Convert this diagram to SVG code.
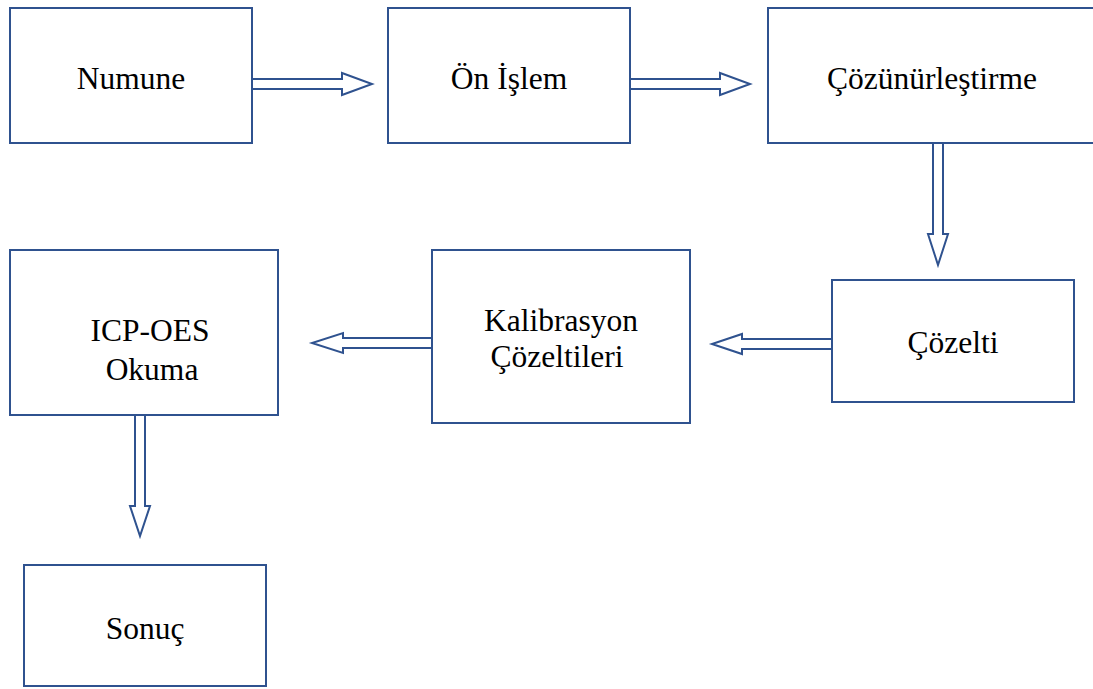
<svg xmlns="http://www.w3.org/2000/svg" width="1093" height="689" viewBox="0 0 1093 689">
<style>
.box{fill:#fff;stroke:#2F528F;stroke-width:2}
.arr{fill:#fff;stroke:#2F528F;stroke-width:2;stroke-linejoin:miter}
text{font-family:"Liberation Serif","Times New Roman",serif;font-size:31.5px;fill:#000;text-anchor:middle}
</style>
<rect width="1093" height="689" fill="#fff"/>
<g id="connectors">
<polygon class="arr" points="252,79 342,79 342,73 372,84 342,95 342,89 252,89"/>
<polygon class="arr" points="630,79 720,79 720,73 750,84 720,95 720,89 630,89"/>
<polygon class="arr" points="933,143 943,143 943,234 948,234 938,265 928,234 933,234"/>
<polygon class="arr" points="832,339 742,339 742,334 712,344 742,354 742,349 832,349"/>
<polygon class="arr" points="432,338 343,338 343,333 312,343 343,353 343,348 432,348"/>
<polygon class="arr" points="135,415 145,415 145,506 150,506 140,536 130,506 135,506"/>
</g>
<g id="n1"><rect class="box" x="10" y="8" width="242" height="135"/><text x="131" y="89">Numune</text></g>
<g id="n2"><rect class="box" x="388" y="8" width="242" height="135"/><text x="509" y="89">Ön İşlem</text></g>
<g id="n3"><rect class="box" x="768" y="8" width="335" height="135"/><text x="932" y="89">Çözünürleştirme</text></g>
<g id="n4"><rect class="box" x="832" y="280" width="242" height="122"/><text x="953" y="353">Çözelti</text></g>
<g id="n5"><rect class="box" x="432" y="250" width="258" height="173"/><text x="561" y="331">Kalibrasyon</text><text x="557" y="367">Çözeltileri</text></g>
<g id="n6"><rect class="box" x="10" y="250" width="268" height="165"/><text x="150" y="341">ICP-OES</text><text x="152" y="380">Okuma</text></g>
<g id="n7"><rect class="box" x="24" y="565" width="242" height="121"/><text x="145" y="639">Sonuç</text></g>
</svg>
